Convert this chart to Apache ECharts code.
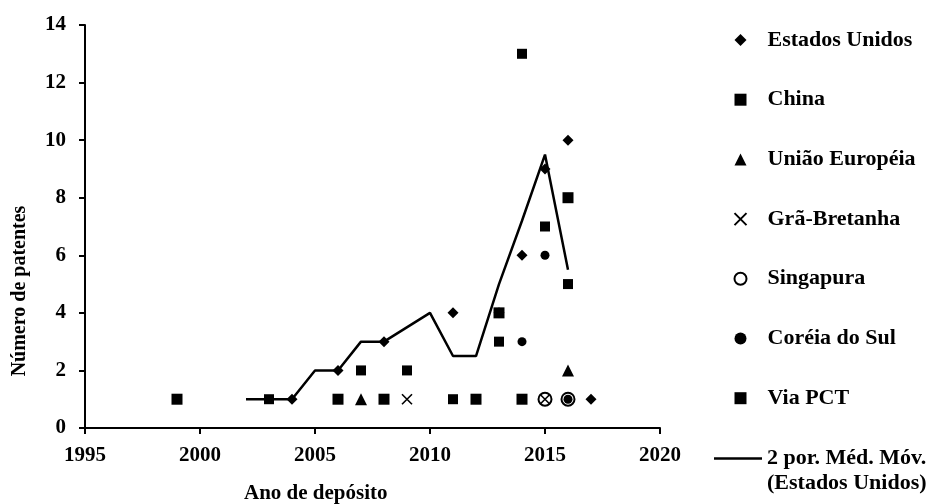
<!DOCTYPE html>
<html>
<head>
<meta charset="utf-8">
<script src="https://cdn.jsdelivr.net/npm/echarts@6/dist/echarts.min.js"></script>
<style>html,body{margin:0;padding:0;background:#fff}#c{width:943px;height:504px}</style>
</head>
<body>
<div id="c"></div>
<script>
// ---- data ----
const xTicks = [1995, 2000, 2005, 2010, 2015, 2020];
const yTicks = [0, 2, 4, 6, 8, 10, 12, 14];

const usYears = [2004, 2006, 2008, 2011, 2013, 2014, 2015, 2016, 2017];
const usValues = [1, 2, 3, 4, 4, 6, 9, 10, 1];

const chinaYears = [2003, 2007, 2009, 2011, 2013, 2014, 2015, 2016];
const chinaValues = [1, 2, 2, 1, 3, 13, 7, 5];

const euYears = [2007, 2016];
const euValues = [1, 2];

const gbYears = [2009, 2015];
const gbValues = [1, 1];

const sgYears = [2015, 2016];
const sgValues = [1, 1];

const krYears = [2014, 2015, 2016];
const krValues = [3, 6, 1];

const pctYears = [1999, 2006, 2008, 2012, 2013, 2014, 2016];
const pctValues = [1, 1, 1, 1, 4, 1, 8];

const maYears = [2002, 2004, 2005, 2006, 2007, 2008, 2010, 2011, 2012, 2013, 2014, 2015, 2016];
const maValues = [1, 1, 2, 2, 3, 3, 4, 2.5, 2.5, 5, 7.2, 9.5, 5.5];

const seriesNames = ['Estados Unidos', 'China', 'União Européia', 'Grã-Bretanha', 'Singapura', 'Coréia do Sul', 'Via PCT'];
const maName = '2 por. Méd. Móv. (Estados Unidos)';
const maLabelLines = ['2 por. Méd. Móv.', '(Estados Unidos)'];
const xTitle = 'Ano de depósito';
const yTitle = 'Número de patentes';

// ---- chart ----
const pair = (xs, ys) => xs.map((x, i) => [x, ys[i]]);
const FONT = '"Liberation Serif", "Times New Roman", serif';
const black = '#000';
const xShape = 'path://M0,0L10,10M10,0L0,10';

const chart = echarts.init(document.getElementById('c'), null, { renderer: 'canvas' });

function sc(name, data, symbol, size, extraStyle) {
  return {
    name: name, type: 'scatter', data: data, symbol: symbol, symbolSize: size,
    itemStyle: Object.assign({ color: black, opacity: 1 }, extraStyle || {}),
    emphasis: { disabled: true }, animation: false
  };
}

chart.setOption({
  animation: false,
  grid: { left: 85, right: 283, top: 25, bottom: 76, containLabel: false },
  xAxis: {
    type: 'value', min: xTicks[0], max: xTicks[xTicks.length - 1], interval: 5,
    axisLine: { lineStyle: { color: black, width: 2 } },
    axisTick: { length: 6, lineStyle: { color: black, width: 2 } },
    splitLine: { show: false },
    axisLabel: { color: black, fontFamily: FONT, fontWeight: 'bold', fontSize: 21, margin: 17,
      formatter: function (v) { return String(v); } }
  },
  yAxis: {
    type: 'value', min: yTicks[0], max: yTicks[yTicks.length - 1], interval: 2,
    axisLine: { show: true, lineStyle: { color: black, width: 2 } },
    axisTick: { show: true, length: 6, lineStyle: { color: black, width: 2 } },
    splitLine: { show: false },
    axisLabel: { color: black, fontFamily: FONT, fontWeight: 'bold', fontSize: 21, margin: 19 }
  },
  legend: [
    {
      data: seriesNames, orient: 'vertical', left: 732, top: 29, padding: 0,
      itemWidth: 12, itemHeight: 12, itemGap: 37.7,
      selectedMode: false,
      textStyle: { color: black, fontFamily: FONT, fontWeight: 'bold', fontSize: 22, lineHeight: 20, padding: [0, 0, 0, 16] }
    },
    {
      data: [{ name: maName, icon: 'rect' }], orient: 'vertical', left: 714, top: 421, padding: 0,
      itemWidth: 48, itemHeight: 2.5, selectedMode: false,
      itemStyle: { color: black, borderWidth: 0 },
      formatter: function () { return '\n' + maLabelLines.join('\n'); },
      textStyle: { color: black, fontFamily: FONT, fontWeight: 'bold', fontSize: 22, lineHeight: 25 }
    }
  ],
  graphic: [
    { type: 'text', left: 244, top: 483, style: { text: xTitle, font: 'bold 21px ' + FONT, fill: black } },
    { type: 'text', x: 20, y: 291, rotation: Math.PI / 2,
      style: { text: yTitle, font: 'bold 20px ' + FONT, fill: black, align: 'center', verticalAlign: 'middle' } }
  ],
  series: [
    sc(seriesNames[0], pair(usYears, usValues), 'diamond', 11),
    sc(seriesNames[1], pair(chinaYears, chinaValues), 'rect', 10),
    sc(seriesNames[2], pair(euYears, euValues), 'triangle', 12),
    sc(seriesNames[3], pair(gbYears, gbValues), xShape, 10, { color: 'none', borderColor: black, borderWidth: 1.6 }),
    sc(seriesNames[4], pair(sgYears, sgValues), 'circle', 13, { color: 'rgba(0,0,0,0)', borderColor: black, borderWidth: 2 }),
    sc(seriesNames[5], pair(krYears, krValues), 'circle', 9),
    sc(seriesNames[6], pair(pctYears, pctValues), 'rect', 11),
    {
      name: maName, type: 'line', data: pair(maYears, maValues),
      symbol: 'none', showSymbol: false, smooth: false,
      lineStyle: { color: black, width: 2.5 }, itemStyle: { color: black },
      emphasis: { disabled: true }, animation: false
    }
  ]
});
</script>
</body>
</html>
